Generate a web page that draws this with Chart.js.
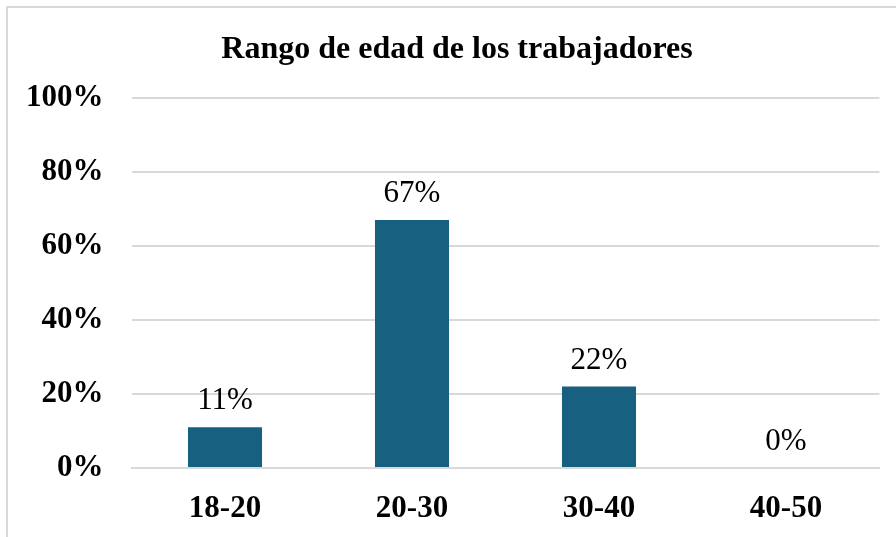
<!DOCTYPE html>
<html>
<head>
<meta charset="utf-8">
<script src="https://cdn.jsdelivr.net/npm/chart.js@4/dist/chart.umd.min.js"></script>
<style>
    html, body { margin: 0; padding: 0; background: #fff; }
    #wrap { width: 896px; height: 537px; position: relative; }
</style>
</head>
<body>
<div id="wrap"><canvas id="chart" width="896" height="537"></canvas></div>
<script>
const titleText = 'Rango de edad de los trabajadores';
const ageRanges = ['18-20', '20-30', '30-40', '40-50'];
const workerShare = [11, 67, 22, 0];
const yTicks = [0, 20, 40, 60, 80, 100];

const serif = '"Liberation Serif", "Times New Roman", serif';
const gridGray = '#d9d9d9';

// outer frame like the spreadsheet chart box
const framePlugin = {
    id: 'frame',
    beforeDraw(chart) {
        const ctx = chart.ctx;
        ctx.save();
        ctx.fillStyle = '#fff';
        ctx.fillRect(0, 0, chart.width, chart.height);
        ctx.strokeStyle = gridGray;
        ctx.lineWidth = 2;
        ctx.strokeRect(7, 7, chart.width + 20, chart.height + 20);
        ctx.restore();
    }
};

// the original title is centred on the whole frame, not the plot
const titleShift = {
    id: 'titleShift',
    afterLayout(chart) {
        if (chart.titleBlock) chart.titleBlock.left = 34.5;
    }
};

// value labels above each bar
const valueLabels = {
    id: 'valueLabels',
    afterDatasetsDraw(chart) {
        const ctx = chart.ctx;
        const meta = chart.getDatasetMeta(0);
        ctx.save();
        ctx.font = '31px ' + serif;
        ctx.fillStyle = '#000';
        ctx.textAlign = 'center';
        ctx.textBaseline = 'alphabetic';
        meta.data.forEach((bar, i) => {
            ctx.fillText(workerShare[i] + '%', bar.x, bar.y - 18);
        });
        ctx.restore();
    }
};

new Chart(document.getElementById('chart'), {
    type: 'bar',
    data: {
        labels: ageRanges,
        datasets: [{
            data: workerShare,
            backgroundColor: '#17607f',
            borderWidth: 0,
            barPercentage: 1,
            categoryPercentage: 0.396
        }]
    },
    options: {
        responsive: false,
        animation: false,
        layout: { padding: { top: 31, right: 16.5, bottom: 0, left: 0 } },
        plugins: {
            legend: { display: false },
            tooltip: { enabled: false },
            title: {
                display: true,
                text: titleText,
                color: '#000',
                font: { family: serif, size: 32, weight: 'bold' },
                padding: { top: 0, bottom: 28.6 }
            }
        },
        scales: {
            x: {
                grid: { display: false, drawTicks: false },
                border: { color: gridGray, width: 2 },
                ticks: {
                    color: '#000',
                    font: { family: serif, size: 31, weight: 'bold' },
                    padding: 22
                },
                afterFit(scale) { scale.height = 537 - 468; }
            },
            y: {
                min: 0,
                max: 100,
                afterBuildTicks(scale) { scale.ticks = yTicks.map(v => ({ value: v })); },
                grid: { color: gridGray, lineWidth: 2, drawTicks: false },
                border: { display: false },
                ticks: {
                    color: '#000',
                    font: { family: serif, size: 31, weight: 'bold' },
                    padding: 28,
                    callback: v => v + '%'
                },
                afterFit(scale) { scale.width = 131.5; }
            }
        }
    },
    plugins: [framePlugin, titleShift, valueLabels]
});
</script>
</body>
</html>
